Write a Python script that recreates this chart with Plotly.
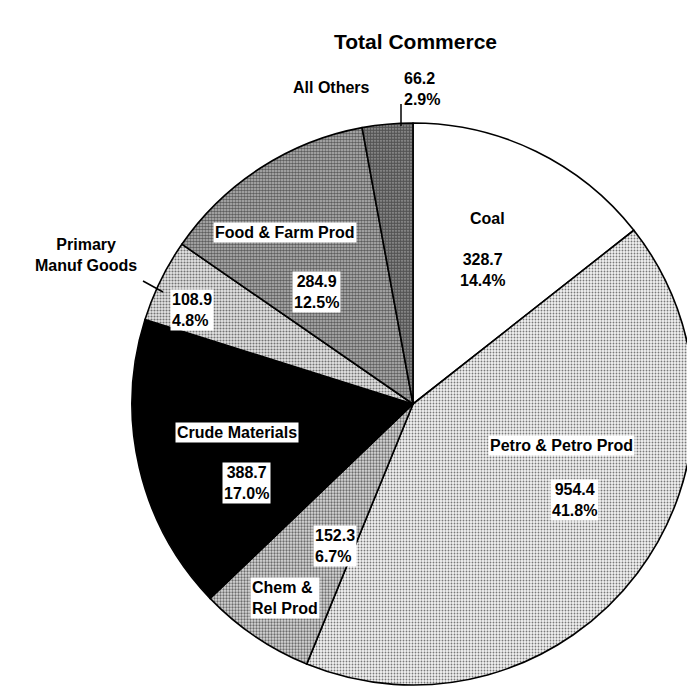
import plotly.graph_objects as go

categories = ["Coal", "Petro & Petro Prod", "Chem & Rel Prod", "Crude Materials",
              "Primary Manuf Goods", "Food & Farm Prod", "All Others"]
values = [328.7, 954.4, 152.3, 388.7, 108.9, 284.9, 66.2]
percents = ["14.4%", "41.8%", "6.7%", "17.0%", "4.8%", "12.5%", "2.9%"]

W, H = 700, 690
FONT = "Liberation Sans, Arial, Helvetica, sans-serif"

fig = go.Figure(go.Pie(
    labels=categories,
    values=values,
    sort=False,
    direction="clockwise",
    rotation=0,
    textinfo="none",
    hoverinfo="label+value+percent",
    marker=dict(
        colors=["white", "#f2f2f2", "#d9d9d9", "black", "#e6e6e6", "#bdbdbd", "#a6a6a6"],
        line=dict(color="black", width=1.6),
        pattern=dict(
            shape=["", ".", ".", "", ".", ".", "."],
            fgcolor="black",
            size=3,
            solidity=[0, 0.3, 0.45, 0, 0.4, 0.6, 0.75],
            fillmode="overlay",
        ),
    ),
    domain=dict(x=[132 / W, 694 / W], y=[1 - 685 / H, 1 - 123 / H]),
    showlegend=False,
))


def px(x, y):
    return x / W, 1 - y / H


def label(text, x, y, box=True, align="center", size=16):
    ax, ay = px(x, y)
    fig.add_annotation(
        x=ax, y=ay, xref="paper", yref="paper", text=text, showarrow=False,
        xanchor="center", yanchor="middle", align=align,
        font=dict(family=FONT, size=size, color="black", weight="bold"),
        bgcolor="white" if box else "rgba(0,0,0,0)", borderpad=1,
    )


# slice labels
label("Coal", 487, 218, box=False)
label(f"{values[0]}<br>{percents[0]}", 483, 270, box=False)
label(categories[1], 561, 445)
label(f"{values[1]}<br>{percents[1]}", 574, 500)
label("Chem &<br>Rel Prod", 285, 598, align="left")
label(f"{values[2]}<br>{percents[2]}", 335, 546, align="left")
label(categories[3], 237, 432)
label(f"{values[3]}<br>{percents[3]}", 246, 483)
label(f"{values[4]}<br>{percents[4]}", 192, 310, align="left")
label("Primary<br>Manuf Goods", 86, 255, box=False)
label(categories[5], 285, 232)
label(f"{values[5]}<br>{percents[5]}", 316, 292)
label(f"{values[6]}<br>{percents[6]}", 422, 89, box=False, align="left")
label(categories[6], 331, 88, box=False)

# leader lines
for (x0, y0, x1, y1) in [(401, 104, 401, 126), (143, 281, 163, 292)]:
    a0, b0 = px(x0, y0)
    a1, b1 = px(x1, y1)
    fig.add_shape(type="line", xref="paper", yref="paper", x0=a0, y0=b0, x1=a1, y1=b1,
                  line=dict(color="black", width=1.5))

tx, ty = px(415, 42)
fig.add_annotation(x=tx, y=ty, xref="paper", yref="paper", text="Total Commerce",
                   showarrow=False, xanchor="center", yanchor="middle",
                   font=dict(family=FONT, size=21, color="black", weight="bold"))

fig.update_layout(
    width=W, height=H,
    margin=dict(l=0, r=0, t=0, b=0),
    paper_bgcolor="white", plot_bgcolor="white",
    font=dict(family=FONT, size=16, color="black"),
)

fig.write_html(
    "out.html",
    config={"displayModeBar": False},
    post_script="document.body.style.margin='0';document.body.style.overflow='hidden';"
                "document.documentElement.style.overflow='hidden';",
)
